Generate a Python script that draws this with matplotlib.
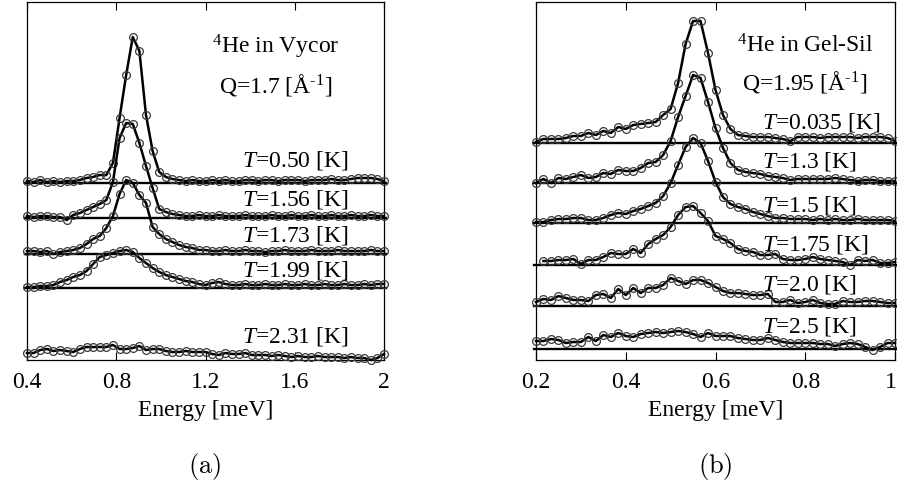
#!/usr/bin/env python3
# Dynamic structure factor of 4He in porous media, two stacked-curve panels

import numpy as np
import matplotlib.pyplot as plt
from matplotlib import transforms

plt.rcParams['font.family'] = ['Liberation Serif', 'DejaVu Serif']
plt.rcParams['mathtext.fontset'] = 'custom'
plt.rcParams['mathtext.rm'] = 'Liberation Serif'
plt.rcParams['mathtext.it'] = 'Liberation Serif:italic'

# ---- Panel (a): 4He in Vycor, Q = 1.7 A^-1 ----
energy_a = np.linspace(0.4, 2.0, 55)  # meV, instrument bins
temps_a = ['0.50', '1.56', '1.73', '1.99', '2.31']

# intensities (arb. units, above each curve's own baseline)
a_T050 = [2, 1, 3, 1, 2, 1, 2, 2, 3,
          5, 6, 8, 8,
          20, 65, 108, 146, 132, 68, 32, 11,
          6, 4, 3, 2, 3, 2, 2, 3, 2, 3,
          2, 2, 3, 3, 2, 3, 3, 2, 3, 3,
          3, 2, 3, 3, 3, 4, 3, 3, 4, 5,
          5, 5, 4, 2]
a_T156 = [2, 1, 2, 2, 1, 1,
          -2,
          3, 5, 8, 11, 14, 18,
          36, 80, 95, 94, 75, 52, 30, 9,
          6, 4, 3, 2, 2, 3, 2, 2, 3, 2,
          2, 2, 3, 2, 2, 2, 3, 2, 2, 3,
          2, 2, 3, 2, 2, 3, 2, 2, 3, 2,
          2, 3, 2, 2]
a_T173 = [3, 3, 2, 3,
          0,
          2, 3, 4, 6, 10, 15, 18, 26,
          38, 60, 74, 71, 59, 51, 27, 20,
          15, 12, 9, 7, 6, 4, 4, 3, 3, 4,
          3, 3, 4, 3, 3, 2, 3, 3, 4, 3,
          3, 3, 4, 3, 3, 3, 4, 3, 3, 3,
          3, 4, 3, 3]
a_T199 = [1, 1, 2, 2, 3, 6, 8, 11, 13, 17,
          24, 31, 33, 35, 37, 38, 36, 30, 25, 20,
          16, 13, 11, 9, 7, 6, 4, 3, 5, 6,
          4, 3, 3, 4, 3, 3, 4, 3, 3, 4,
          3, 3, 4, 3, 3, 4, 3, 3, 4, 3,
          3, 4, 3, 4, 4]
a_T231 = [7, 7, 10, 11, 9, 10, 9, 8, 11, 13,
          13, 13, 13, 15, 11, 11, 12, 14, 10, 11,
          11, 9, 8, 8, 9, 8, 8, 8, 6, 5,
          7, 6, 6, 7, 5, 5, 5, 4, 5, 4,
          3, 4, 3, 3, 4, 3, 3, 3, 2, 3,
          2, 2, 0, 2, 6]

# ---- Panel (b): 4He in Gel-Sil, Q = 1.95 A^-1 ----
energy_b = np.linspace(0.2, 1.0, 49)  # meV, instrument bins
temps_b = ['0.035', '1.3', '1.5', '1.75', '2.0', '2.5']

b_T0035 = [1, 4, 4, 4, 5, 7, 7, 10, 8, 12,
           10, 16, 14, 18, 19, 20, 21, 28, 34, 60,
           99, 122, 122, 90, 53, 28, 14, 8, 7, 6,
           6, 6, 5, 4, 2, 6, 6, 6, 5, 6,
           6, 6, 6, 5, 6, 6, 6, 5, 2]
b_T13 = [0, 4, 0, 5, 4, 6, 8, 5, 6, 10,
         9, 13, 12, 12, 15, 20, 21, 28, 42, 66,
         87, 108, 105, 81, 55, 35, 20, 13, 11, 10,
         9, 7, 6, 5, 3, 4, 4, 4, 4, 4,
         5, 4, 3, 2, 3, 3, 2, 2, 2]
b_T15 = [1, 1, 3, 4, 4, 5, 5, 3, 3, 5,
         8, 10, 9, 12, 14, 17, 20, 27, 40, 58,
         76, 85, 80, 62, 41, 26, 19, 16, 14, 11,
         9, 7, 5, 5, 4, 4, 4, 3, 4, 3,
         4, 3, 3, 4, 3, 3, 3, 3, 2]
b_T175 = [np.nan, 4, 4, 5, 5, 6, 1, 5, 5, 8,
          12, 11, 11, 16, 12, 21, 26, 30, 38, 50,
          58, 59, 52, 44, 29, 26, 22, 16, 14, 13,
          10, 10, 11, 6, 5, 5, 6, 8, 6, 5,
          4, 3, 0, 5, 4, 5, 2, 2, 3]
b_T20 = [4, 7, 6, 10, 8, 6, 6, 5, 11, 12,
         8, 17, 11, 18, 13, 18, 18, 21, 28, 25,
         22, 26, 26, 23, 19, 15, 13, 13, 12, 11,
         11, 12, 4, 4, 6, 3, 4, 6, 3, 2,
         2, 5, 4, 4, 5, 5, 4, 3, 3]
b_T25 = [8, 8, 10, 9, 6, 7, 7, 12, 8, 14,
         12, 16, 13, 12, 15, 16, 17, 16, 17, 18,
         17, 15, 12, 16, 13, 13, 13, 11, 10, 9,
         9, 11, 9, 7, 6, 6, 6, 6, 5, 5,
         3, 5, 6, 5, 2, -1, 2, 6, 6]

# Layout: vertical shift of each curve, where its temperature label sits
OFFSET_A = [177, 142, 106, 72, 0]
BASELINE_A = [True, True, True, True, False]
LABEL_Y_A = [200, 161, 125, 90, 23]
OFFSET_B = [217, 177, 137, 95, 54, 11]
LABEL_Y_B = [238, 199, 155, 116, 75, 33]

FS = 17
LINE = dict(color='k', lw=1.8, marker='o', ms=5.6, mfc='none',
            mec='#3a3a3a', mew=0.9, clip_on=False, zorder=3)


def style_axes(ax, xlim, ticks, ticklabels):
    """Boxed axes, inward x ticks top and bottom, no y axis."""
    ax.set_xlim(*xlim)
    ax.set_ylim(0, 358)
    ax.set_xticks(ticks)
    ax.set_xticklabels(ticklabels)
    ax.set_yticks([])
    ax.tick_params(axis='x', direction='in', top=True, length=6,
                   width=0.8, pad=9, labelsize=FS)
    for s in ax.spines.values():
        s.set_linewidth(0.9)
    ax.set_xlabel('Energy [meV]', fontsize=FS, labelpad=5)


def draw_stack(ax, energy, curves, offsets, baselines, temps, label_y,
               label_x, ha):
    trans = ax.get_yaxis_transform()
    for vals, off, base, t, ly in zip(curves, offsets, baselines, temps, label_y):
        if base:
            ax.axhline(off, xmin=-0.006, xmax=1.006, color='k', lw=1.7,
                       clip_on=False, zorder=2)
        ax.plot(energy, off + np.asarray(vals, dtype=float), **LINE)
        ax.text(label_x, ly, r'$T$=' + t + ' [K]', transform=trans,
                ha=ha, va='center', fontsize=FS)


fig = plt.figure(figsize=(8.97, 4.94), dpi=100)
ax_a = fig.add_axes([27 / 897, 1 - 360 / 494, 357 / 897, 358 / 494])
ax_b = fig.add_axes([536 / 897, 1 - 360 / 494, 359 / 897, 358 / 494])

# Panel (a)
draw_stack(ax_a, energy_a, [a_T050, a_T156, a_T173, a_T199, a_T231],
           OFFSET_A, BASELINE_A, temps_a, LABEL_Y_A, 0.751, 'center')
style_axes(ax_a, (0.4, 2.0), [0.4, 0.8, 1.2, 1.6, 2.0],
           ['0.4', '0.8', '1.2', '1.6', '2'])
ta = ax_a.get_yaxis_transform()
ax_a.text(0.697, 313, r'$^{4}$He in Vycor', transform=ta, ha='center',
          va='center', fontsize=FS)
ax_a.text(0.697, 275, r'Q=1.7 [Å$^{\text{-1}}$]', transform=ta,
          ha='center', va='center', fontsize=FS)

# Panel (b)
draw_stack(ax_b, energy_b, [b_T0035, b_T13, b_T15, b_T175, b_T20, b_T25],
           OFFSET_B, [True] * 6, temps_b, LABEL_Y_B, 0.63, 'left')
style_axes(ax_b, (0.2, 1.0), [0.2, 0.4, 0.6, 0.8, 1.0],
           ['0.2', '0.4', '0.6', '0.8', '1'])
tb = ax_b.get_yaxis_transform()
ax_b.text(0.749, 314, r'$^{4}$He in Gel-Sil', transform=tb, ha='center',
          va='center', fontsize=FS)
ax_b.text(0.749, 278, r'Q=1.95 [Å$^{\text{-1}}$]', transform=tb,
          ha='center', va='center', fontsize=FS)

# the last tick label sits on the figure edge: nudge it inward a little
last = ax_b.get_xticklabels()[-1]
last.set_transform(last.get_transform() +
                   transforms.ScaledTranslation(-4 / 100, 0, fig.dpi_scale_trans))

# Sub-figure tags
fig.text(205 / 897, 1 - 466 / 494, r'$\mathrm{(a)}$', math_fontfamily='cm',
         fontsize=19, ha='center', va='center')
fig.text(715 / 897, 1 - 466 / 494, r'$\mathrm{(b)}$', math_fontfamily='cm',
         fontsize=19, ha='center', va='center')

fig.savefig('out.png', dpi=100)
